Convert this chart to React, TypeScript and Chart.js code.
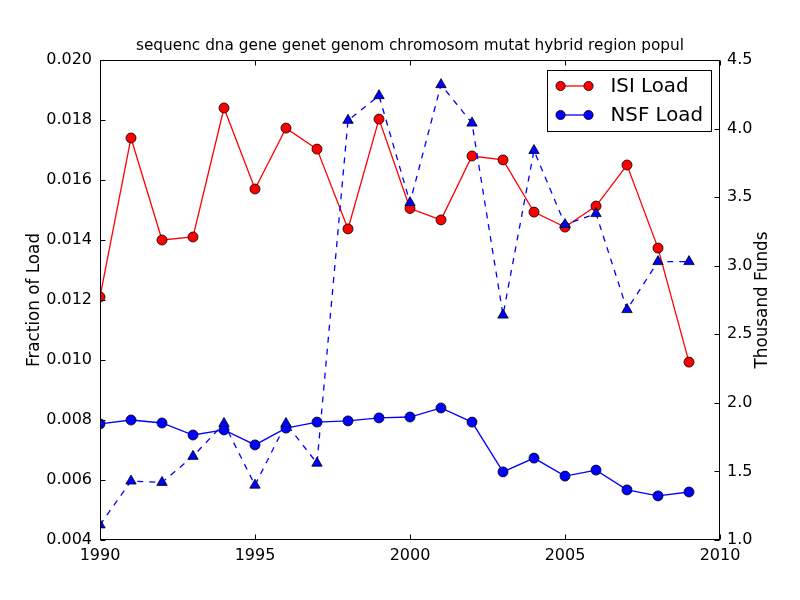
import React, { useEffect, useRef } from "react";
import { Chart, registerables } from "chart.js";

Chart.register(...registerables);

const years = [1990, 1991, 1992, 1993, 1994, 1995, 1996, 1997, 1998, 1999, 2000, 2001, 2002, 2003, 2004, 2005, 2006, 2007, 2008, 2009];
const isiLoad = [0.0121, 0.0174, 0.0140, 0.0141, 0.0184, 0.0157, 0.01773, 0.01703, 0.01437, 0.01803, 0.01505, 0.01467, 0.0168, 0.01667, 0.01493, 0.01443, 0.01513, 0.0165, 0.01373, 0.00993];
const nsfLoad = [0.00787, 0.0080, 0.0079, 0.0075, 0.00767, 0.00717, 0.00773, 0.00793, 0.00797, 0.00807, 0.0081, 0.0084, 0.00793, 0.00627, 0.00673, 0.00613, 0.00633, 0.00567, 0.00547, 0.0056];
const thousandFunds = [1.11, 1.43, 1.42, 1.61, 1.85, 1.40, 1.85, 1.56, 4.06, 4.24, 3.46, 4.32, 4.04, 2.64, 3.84, 3.30, 3.38, 2.68, 3.03, 3.03];

const titleText = "sequenc dna gene genet genom chromosom mutat hybrid region popul";
const leftLabel = "Fraction of Load";
const rightLabel = "Thousand Funds";
const xRange = [1990, 2010];
const leftRange = [0.004, 0.02];
const rightRange = [1.0, 4.5];

const FONT = "'DejaVu Sans', sans-serif";

const decorPlugin = {
  id: "decor",
  afterDraw(chart: any) {
    const ctx = chart.ctx as CanvasRenderingContext2D;
    const a = chart.chartArea;
    ctx.save();
    // frame
    ctx.strokeStyle = "#000";
    ctx.lineWidth = 1;
    const L = Math.round(a.left) + 0.5;
    const R = Math.round(a.right) - 0.5;
    const T = Math.round(a.top) + 0.5;
    const B = Math.round(a.bottom) - 0.5;
    ctx.strokeRect(L, T, R - L, B - T);
    // inward ticks
    const tl = 5;
    ctx.beginPath();
    const xs = chart.scales.x;
    xs.ticks.forEach((t: any) => {
      const px = Math.round(xs.getPixelForValue(t.value)) + 0.5;
      ctx.moveTo(px, B);
      ctx.lineTo(px, B - tl);
      ctx.moveTo(px, T);
      ctx.lineTo(px, T + tl);
    });
    const ys = chart.scales.y;
    ys.ticks.forEach((t: any) => {
      const py = Math.round(ys.getPixelForValue(t.value)) + 0.5;
      ctx.moveTo(L, py);
      ctx.lineTo(L + tl, py);
    });
    const y2 = chart.scales.y2;
    y2.ticks.forEach((t: any) => {
      const py = Math.round(y2.getPixelForValue(t.value)) + 0.5;
      ctx.moveTo(R, py);
      ctx.lineTo(R - tl, py);
    });
    ctx.stroke();

    // title
    ctx.fillStyle = "#000";
    ctx.font = `15.3px ${FONT}`;
    ctx.textAlign = "center";
    ctx.textBaseline = "alphabetic";
    ctx.fillText(titleText, (a.left + a.right) / 2, a.top - 10);

    // axis labels
    ctx.font = `16.8px ${FONT}`;
    ctx.textBaseline = "middle";
    ctx.save();
    ctx.translate(35, (a.top + a.bottom) / 2);
    ctx.rotate(-Math.PI / 2);
    ctx.fillText(leftLabel, 0, 0);
    ctx.restore();
    ctx.save();
    ctx.translate(a.right + 43, (a.top + a.bottom) / 2);
    ctx.rotate(-Math.PI / 2);
    ctx.fillText(rightLabel, 0, 0);
    ctx.restore();

    // legend
    const items = chart.data.datasets.filter((d: any) => d.inLegend);
    ctx.font = `19.8px ${FONT}`;
    const maxW = Math.max(...items.map((d: any) => ctx.measureText(d.label).width));
    const boxR = a.right - 9;
    const boxT = a.top + 10;
    const boxW = 64 + maxW + 8;
    const boxH = 61;
    const boxL = boxR - boxW;
    ctx.fillStyle = "#fff";
    ctx.fillRect(boxL, boxT, boxW, boxH);
    ctx.strokeStyle = "#000";
    ctx.lineWidth = 1;
    ctx.strokeRect(Math.round(boxL) + 0.5, Math.round(boxT) + 0.5, Math.round(boxW), Math.round(boxH));
    items.forEach((d: any, i: number) => {
      const cy = boxT + 16 + i * 29;
      const x1 = boxL + 14;
      const x2 = boxL + 42;
      ctx.strokeStyle = d.borderColor;
      ctx.lineWidth = 1.3;
      ctx.beginPath();
      ctx.moveTo(x1, cy);
      ctx.lineTo(x2, cy);
      ctx.stroke();
      [x1, x2].forEach((mx) => {
        ctx.beginPath();
        ctx.arc(mx, cy, 4.6, 0, Math.PI * 2);
        ctx.fillStyle = d.pointBackgroundColor;
        ctx.fill();
        ctx.strokeStyle = "#000";
        ctx.lineWidth = 0.8;
        ctx.stroke();
      });
      ctx.fillStyle = "#000";
      ctx.textAlign = "left";
      ctx.textBaseline = "middle";
      ctx.fillText(d.label, boxL + 64, cy + 1);
    });
    ctx.restore();
  },
};

export default function App() {
  const ref = useRef<HTMLCanvasElement | null>(null);

  useEffect(() => {
    if (!ref.current) return;
    const toPts = (vals: number[]) => years.map((x, i) => ({ x, y: vals[i] }));
    const chart = new Chart(ref.current, {
      type: "line",
      data: {
        datasets: [
          {
            label: "Thousand Funds",
            data: toPts(thousandFunds),
            yAxisID: "y2",
            borderColor: "#0000ff",
            borderWidth: 1.3,
            borderDash: [6, 6],
            pointStyle: "triangle",
            pointRadius: 6,
            pointBackgroundColor: "#0000ff",
            pointBorderColor: "#000",
            pointBorderWidth: 0.8,
            tension: 0,
            order: 0,
          } as any,
          {
            label: "ISI Load",
            inLegend: true,
            data: toPts(isiLoad),
            yAxisID: "y",
            borderColor: "#ff0000",
            borderWidth: 1.3,
            pointRadius: 5,
            pointBackgroundColor: "#ff0000",
            pointBorderColor: "#000",
            pointBorderWidth: 0.8,
            tension: 0,
            order: 1,
          } as any,
          {
            label: "NSF Load",
            inLegend: true,
            data: toPts(nsfLoad),
            yAxisID: "y",
            borderColor: "#0000ff",
            borderWidth: 1.3,
            pointRadius: 5,
            pointBackgroundColor: "#0000ff",
            pointBorderColor: "#000",
            pointBorderWidth: 0.8,
            tension: 0,
            order: 2,
          } as any,
        ],
      },
      options: {
        animation: false,
        responsive: true,
        maintainAspectRatio: false,
        events: [],
        layout: { padding: { top: 60, left: 0, right: 0, bottom: 0 } },
        plugins: {
          legend: { display: false },
          tooltip: { enabled: false },
          title: { display: false },
        },
        scales: {
          x: {
            type: "linear",
            min: xRange[0],
            max: xRange[1],
            grid: { display: false, drawTicks: false },
            border: { display: false },
            ticks: {
              stepSize: 5,
              padding: 6,
              color: "#000",
              font: { family: FONT, size: 16 },
              maxRotation: 0,
              callback: (v: any) => String(v),
            },
            afterFit: (s: any) => {
              s.height = 60;
            },
          },
          y: {
            type: "linear",
            position: "left",
            min: leftRange[0],
            max: leftRange[1],
            grid: { display: false, drawTicks: false },
            border: { display: false },
            ticks: {
              stepSize: 0.002,
              padding: 8,
              color: "#000",
              font: { family: FONT, size: 16 },
              callback: (v: any) => Number(v).toFixed(3),
            },
            afterFit: (s: any) => {
              s.width = 100;
            },
          },
          y2: {
            type: "linear",
            position: "right",
            min: rightRange[0],
            max: rightRange[1],
            grid: { display: false, drawTicks: false },
            border: { display: false },
            ticks: {
              stepSize: 0.5,
              padding: 7,
              color: "#000",
              font: { family: FONT, size: 16 },
              callback: (v: any) => Number(v).toFixed(1),
            },
            afterFit: (s: any) => {
              s.width = 80;
            },
          },
        },
      },
      plugins: [decorPlugin],
    });
    return () => chart.destroy();
  }, []);

  return (
    <div style={{ position: "fixed", left: 0, top: 0, width: 800, height: 600, background: "#fff" }}>
      <canvas ref={ref} />
    </div>
  );
}
